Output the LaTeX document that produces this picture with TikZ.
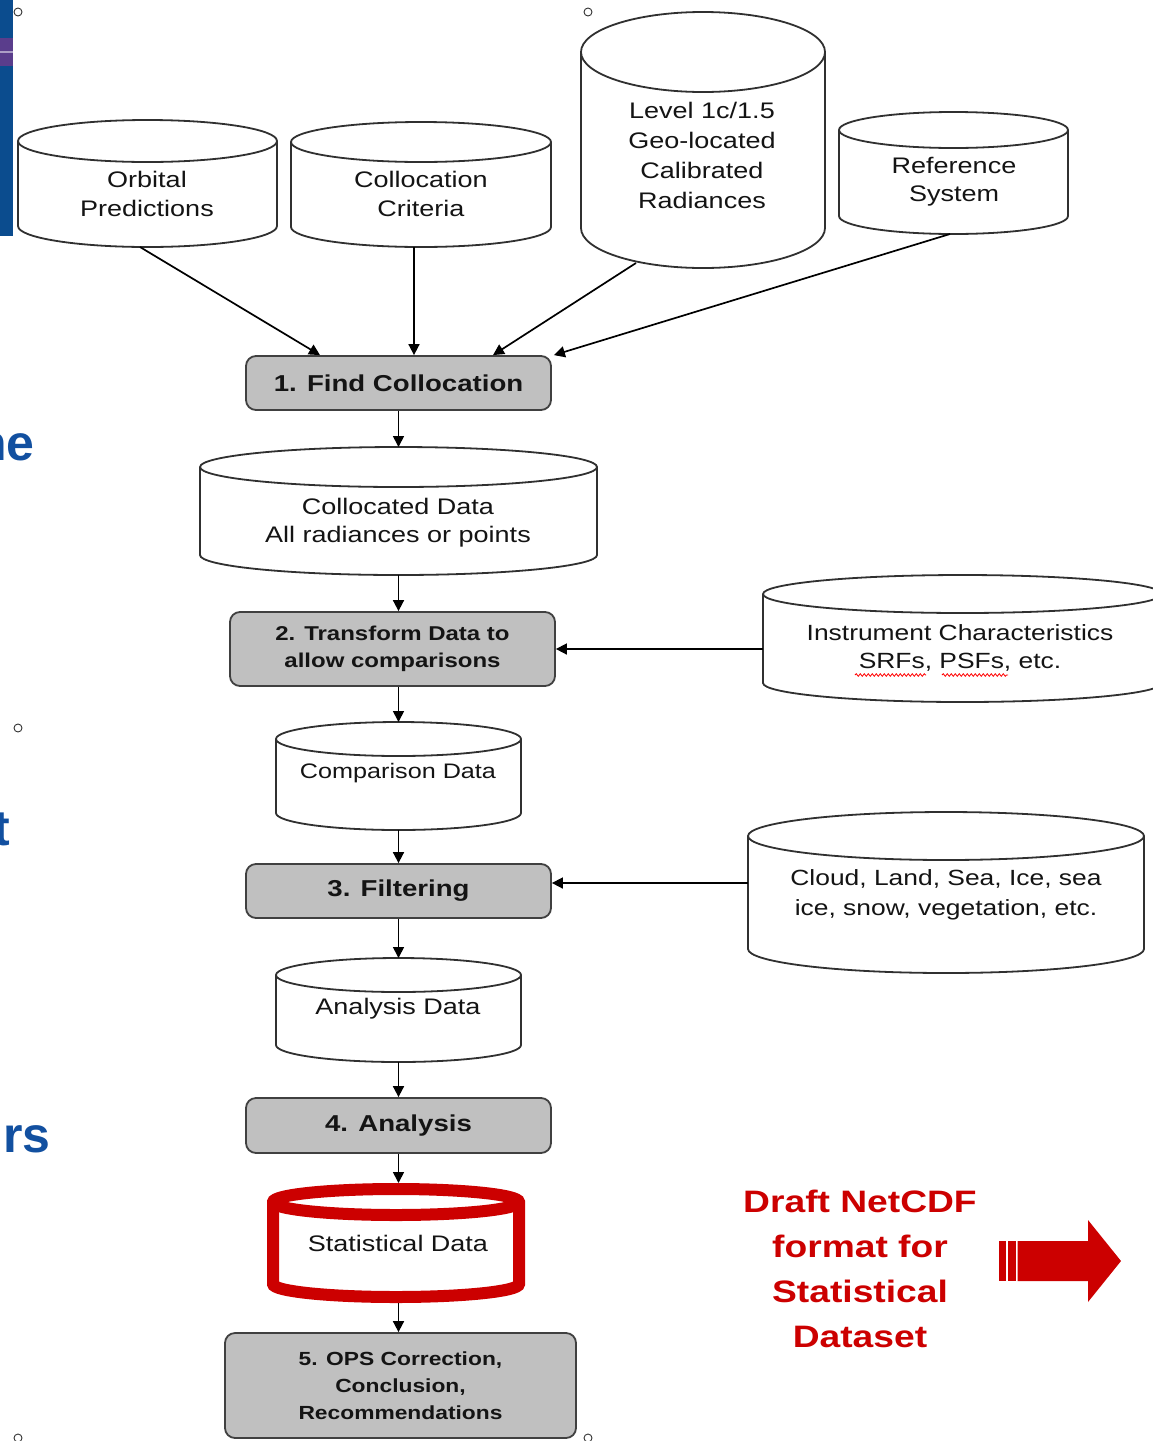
\documentclass[tikz,border=0pt]{standalone}
\usepackage{fontspec}
\setmainfont{Liberation Sans}
\newfontfamily\wf[FakeStretch=1.2]{Liberation Sans}
\usetikzlibrary{arrows.meta,decorations.pathmorphing}
\definecolor{boxgray}{HTML}{C0C0C0}
\definecolor{edgegray}{HTML}{404040}
\definecolor{cylline}{HTML}{303030}
\definecolor{statred}{HTML}{CC0000}
\definecolor{slideblue}{HTML}{0B4C8E}
\definecolor{slidepurple}{HTML}{5A3D8C}
\definecolor{fragblue}{HTML}{1250A0}
\definecolor{txtblack}{HTML}{141414}

\newcommand{\dbcyl}[7]{%
  \pgfmathsetmacro{\cylrx}{(#3-#2)/2}%
  \pgfmathsetmacro{\cylcx}{(#3+#2)/2}%
  \pgfmathsetmacro{\cylyt}{-(#4)-(#6)}%
  \pgfmathsetmacro{\cylyb}{-(#5)+(#6)}%
  \pgfmathsetmacro{\cylcy}{-((#4)+(#5))/2}%
  \pgfmathsetmacro{\cylw}{#3-#2}%
  \pgfmathsetmacro{\cylh}{#5-#4}%
  \path[#7] (#2,\cylyt) -- (#2,\cylyb)
     arc[start angle=180,end angle=360,x radius=\cylrx,y radius=#6]
     -- (#3,\cylyt)
     arc[start angle=0,end angle=180,x radius=\cylrx,y radius=#6] -- cycle;
  \path[#7,fill=none] (#2,\cylyt) arc[start angle=180,end angle=360,x radius=\cylrx,y radius=#6];
  \node[anchorbox,minimum width=\cylw,minimum height=\cylh] (#1) at (\cylcx,\cylcy) {};
}

\tikzset{
  cyl/.style={draw=cylline, line width=1.8pt, fill=white},
  statcyl/.style={draw=statred, line width=12pt, fill=white},
  anchorbox/.style={inner sep=0pt, outer sep=0pt},
  stepbox/.style={draw=edgegray, fill=boxgray, line width=1.8pt, rounded corners=10pt,
    inner sep=0pt, align=center, text=txtblack},
  boxfont/.style={font=\wf\bfseries\fontsize{#1}{27}\selectfont},
  txt/.style={inner sep=0pt, align=center, text=txtblack,
    font=\wf\fontsize{22.5}{28.5}\selectfont},
  arr/.style={draw=black, line width=1.7pt, -{Triangle[width=11pt,length=11pt]}},
  handle/.style={draw=black!80, line width=0.9pt, fill=white},
  frag/.style={anchor=base east, inner sep=0pt, text=fragblue, font=\bfseries\fontsize{50}{52}\selectfont},
}

\begin{document}
\begin{tikzpicture}[x=1pt,y=1pt]
\useasboundingbox (0,0) rectangle (1153,-1441);
\fill[white] (0,0) rectangle (1153,-1441);

% slide remnants on the left
\fill[slideblue] (0,0) rectangle (13,-236);
\fill[slidepurple] (0,-38) rectangle (13,-66);
\draw[slidepurple!50!white, line width=1.5pt] (0,-52) -- (13,-52);
\node[frag] (frag1) at (35,-460) {ne};
\node[frag] (frag2) at (10,-845) {t};
\node[frag] (frag3) at (51,-1152) {rs};

% cylinders
\dbcyl{orb}{18}{277}{120}{247}{21}{cyl}
\dbcyl{coll}{291}{551}{122}{247}{20}{cyl}
\dbcyl{lev}{581}{825}{12}{268}{40}{cyl}
\dbcyl{ref}{839}{1068}{112}{234}{18}{cyl}
\dbcyl{cdata}{200}{597}{447}{575}{20}{cyl}
\dbcyl{inst}{763}{1162}{575}{702}{19}{cyl}
\dbcyl{comp}{276}{521}{722}{830}{17}{cyl}
\dbcyl{cloud}{748}{1144}{812}{973}{24}{cyl}
\dbcyl{adata}{276}{521}{958}{1062}{17}{cyl}
\dbcyl{stat}{273}{519}{1189}{1297}{13}{statcyl}

% cylinder texts
\node[txt] (t-orb) at (147,-194) {Orbital\\Predictions};
\node[txt] (t-coll) at (421,-194) {Collocation\\Criteria};
\node[txt, font=\wf\fontsize{22.5}{30.3}\selectfont] (t-lev) at (702,-155.5) {Level 1c/1.5\\Geo-located\\Calibrated\\Radiances};
\node[txt] (t-ref) at (954,-181.5) {Reference\\System};
\node[txt] (t-cdata) at (398,-522.5) {Collocated Data\\All radiances or points};
\node[txt, font=\wf\fontsize{22}{28}\selectfont] (t-inst) at (960,-648) {Instrument Characteristics\\SRFs, PSFs, etc.};
\node[txt, font=\wf\fontsize{21}{26}\selectfont] (t-comp) at (398,-773) {Comparison Data};
\node[txt, font=\wf\fontsize{22}{30}\selectfont] (t-cloud) at (946,-895) {Cloud, Land, Sea, Ice, sea\\ice, snow, vegetation, etc.};
\node[txt] (t-adata) at (398,-1009) {Analysis Data};
\node[txt] (t-stat) at (398,-1243) {Statistical Data};

% spell-check squiggles
\draw[red, line width=0.8pt, decorate, decoration={snake, amplitude=1.3pt, segment length=4pt}] (855,-675) -- (926,-675);
\draw[red, line width=0.8pt, decorate, decoration={snake, amplitude=1.3pt, segment length=4pt}] (942,-675) -- (1008,-675);

% process boxes
\node[stepbox, boxfont=23, minimum width=305, minimum height=54] (find) at (398.5,-383) {1. Find Collocation};
\node[stepbox, boxfont=20, minimum width=325, minimum height=74] (trans) at (392.5,-649) {2. Transform Data to\\allow comparisons};
\node[stepbox, boxfont=23, minimum width=305, minimum height=54] (filt) at (398.5,-891) {3. Filtering};
\node[stepbox, boxfont=23, minimum width=305, minimum height=55] (anal) at (398.5,-1125.5) {4. Analysis};
\node[stepbox, boxfont=19, minimum width=351, minimum height=105] (ops) at (400.5,-1385.5) {5. OPS Correction,\\Conclusion,\\Recommendations};

% connectors
\draw[arr] ([xshift=-7.5]orb.south) -- ([xshift=-78.5]find.north);
\draw[arr] ([xshift=-7]coll.south) -- ([xshift=15.5]find.north);
\draw[arr] ([shift={(-67,5)}]lev.south) -- ([xshift=94.5]find.north);
\draw[arr] ([xshift=-3.5]ref.south) -- ([xshift=2]find.north east);
\draw[arr] (find.south) -- (cdata.north);
\draw[arr] (cdata.south) -- (cdata.south |- trans.north);
\draw[arr] (trans.south -| comp.north) -- (comp.north);
\draw[arr] (trans.east -| inst.west) -- (trans.east);
\draw[arr] (comp.south) -- (filt.north);
\draw[arr] ([yshift=8]filt.east -| cloud.west) -- ([yshift=8]filt.east);
\draw[arr] (filt.south) -- (adata.north);
\draw[arr] (adata.south) -- (anal.north);
\draw[arr] (anal.south) -- ([yshift=6]anal.south |- stat.north);
\draw[arr] ([yshift=-6]anal.south |- stat.south) -- (anal.south |- ops.north);

% red note and block arrow
\node[inner sep=0pt, align=center, text=statred, font=\wf\bfseries\fontsize{31}{45}\selectfont] (draft) at (860,-1268.5) {Draft NetCDF\\format for\\Statistical\\Dataset};
\fill[statred] (999,-1241) rectangle (1006,-1281);
\fill[statred] (1007.5,-1241) rectangle (1016,-1281);
\fill[statred] (1017.5,-1241) -- (1088,-1241) -- (1088,-1220) -- (1121,-1261) -- (1088,-1302) -- (1088,-1281) -- (1017.5,-1281) -- cycle;

% selection handles
\draw[handle] (18,-12) circle[radius=4];
\draw[handle] (588,-12) circle[radius=4];
\draw[handle] (18,-728) circle[radius=4];
\draw[handle] (18,-1438) circle[radius=4];
\draw[handle] (588,-1438) circle[radius=4];
\end{tikzpicture}
\end{document}
